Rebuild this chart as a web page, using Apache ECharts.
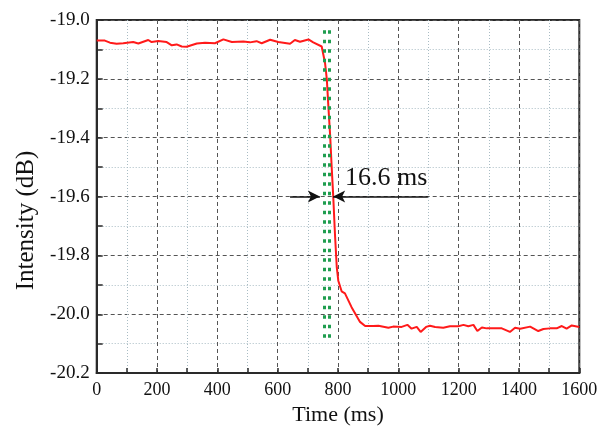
<!DOCTYPE html>
<html>
<head>
<meta charset="utf-8">
<script src="https://cdn.jsdelivr.net/npm/echarts@6/dist/echarts.min.js"></script>
<style>html,body{margin:0;padding:0;background:#fff}#c{width:606px;height:431px}</style>
</head>
<body>
<div id="c"></div>
<script>
// ---- data ----
var timeMs = [0, 27, 44, 66, 88, 121, 138, 171, 182, 204, 232, 249, 265, 282, 298, 332, 359, 392, 420, 448, 486, 508, 530, 547, 575, 602, 641, 657, 674, 702, 718, 746, 757, 763, 768, 774, 779, 784, 790, 796, 801, 812, 823, 845, 873, 890, 917, 934, 967, 983, 1011, 1030, 1044, 1061, 1074, 1092, 1105, 1122, 1149, 1171, 1199, 1216, 1232, 1249, 1262, 1277, 1293, 1326, 1343, 1370, 1387, 1404, 1437, 1464, 1481, 1503, 1525, 1542, 1558, 1575, 1600];
var intensity = [-19.070, -19.070, -19.077, -19.081, -19.079, -19.075, -19.080, -19.068, -19.075, -19.071, -19.075, -19.086, -19.083, -19.090, -19.091, -19.080, -19.077, -19.079, -19.066, -19.075, -19.073, -19.076, -19.072, -19.079, -19.067, -19.075, -19.081, -19.068, -19.074, -19.066, -19.076, -19.090, -19.146, -19.202, -19.292, -19.393, -19.499, -19.595, -19.729, -19.841, -19.886, -19.922, -19.929, -19.976, -20.026, -20.040, -20.040, -20.039, -20.046, -20.042, -20.043, -20.036, -20.049, -20.043, -20.060, -20.043, -20.039, -20.043, -20.046, -20.041, -20.041, -20.036, -20.041, -20.036, -20.057, -20.045, -20.048, -20.048, -20.048, -20.060, -20.046, -20.049, -20.042, -20.057, -20.050, -20.048, -20.048, -20.040, -20.049, -20.038, -20.043];

// annotation: response-time markers (green dotted) and arrows
var markerTimes = [753, 770];
var markerRange = [-19.035, -20.10];
var arrowLevel = -19.6;
var arrowLeft = [641, 740];     // from, to (tip)
var arrowRight = [1098, 784];   // from, to (tip)
var annotationText = '16.6 ms';
var annotationPos = [823, -19.538];

var xTicks = {min: 0, max: 1600, interval: 200};
var yTicks = {min: -20.2, max: -19.0, interval: 0.2};

// ---- chart ----
var serif = '"Liberation Serif","Times New Roman",serif';
var chart = echarts.init(document.getElementById('c'), null, {renderer: 'canvas'});
var seriesData = timeMs.map(function (t, i) { return [t, intensity[i]]; });

var vLines = markerTimes.map(function (t) {
  return [{coord: [t, markerRange[0]]}, {coord: [t, markerRange[1]]}];
});

chart.setOption({
  animation: false,
  grid: {left: 96.7, right: 26.7, top: 20, bottom: 54.3, show: true, borderColor: '#2a2a2a', borderWidth: 2, backgroundColor: 'transparent'},
  xAxis: {
    type: 'value', min: xTicks.min, max: xTicks.max, interval: xTicks.interval,
    name: 'Time (ms)', nameLocation: 'middle', nameGap: 29,
    nameTextStyle: {fontFamily: serif, fontSize: 22, color: '#111'},
    axisLine: {show: true, lineStyle: {color: '#2a2a2a', width: 2}},
    axisTick: {show: true, inside: true, length: 5, lineStyle: {color: '#2a2a2a', width: 1.5}},
    minorTick: {show: true, splitNumber: 2, length: 5, lineStyle: {color: '#2a2a2a', width: 1.5}},
    axisLabel: {fontFamily: serif, fontSize: 18, color: '#111', margin: 8, formatter: function (v) { return String(v); }},
    splitLine: {show: true, lineStyle: {color: '#555', type: [4, 3], width: 1}},
    minorSplitLine: {show: true, lineStyle: {color: '#a9bcc4', type: [1, 2], width: 1}}
  },
  yAxis: {
    type: 'value', min: yTicks.min, max: yTicks.max, interval: yTicks.interval,
    name: 'Intensity (dB)', nameLocation: 'middle', nameGap: 58,
    nameTextStyle: {fontFamily: serif, fontSize: 25, color: '#111', padding: [0, 48, 0, 0]},
    axisLine: {show: true, lineStyle: {color: '#2a2a2a', width: 2}},
    axisTick: {show: true, inside: true, length: 6, lineStyle: {color: '#2a2a2a', width: 1.5}},
    minorTick: {show: true, splitNumber: 2, length: 6, lineStyle: {color: '#2a2a2a', width: 1.5}},
    axisLabel: {fontFamily: serif, fontSize: 19, color: '#111', margin: 7, formatter: function (v) { return v.toFixed(1); }},
    splitLine: {show: true, lineStyle: {color: '#555', type: [4, 3], width: 1}},
    minorSplitLine: {show: true, lineStyle: {color: '#a9bcc4', type: [1, 2], width: 1}}
  },
  series: [
    {
      type: 'line', data: seriesData, showSymbol: false, symbol: 'none',
      lineStyle: {color: '#ff1a1a', width: 2}, z: 3
    },
    {
      type: 'line', data: [], z: 4,
      markLine: {
        silent: true, symbol: ['none', 'none'], label: {show: false},
        lineStyle: {color: '#1f9d4f', type: [3.5, 6], width: 3},
        data: vLines
      }
    },
    {
      type: 'line', data: [], z: 5,
      markLine: {
        silent: true, symbol: ['none', 'arrow'], symbolSize: [9, 12], label: {show: false},
        lineStyle: {color: '#111', type: 'solid', width: 1.5},
        data: [
          [{coord: [arrowLeft[0], arrowLevel]}, {coord: [arrowLeft[1], arrowLevel]}],
          [{coord: [arrowRight[0], arrowLevel]}, {coord: [arrowRight[1], arrowLevel]}]
        ]
      },
      markPoint: {
        silent: true, symbol: 'circle', symbolSize: 0,
        label: {show: true, formatter: annotationText, position: 'right', distance: 0, fontFamily: serif, fontSize: 26, color: '#111', align: 'left', verticalAlign: 'middle'},
        data: [{coord: annotationPos}]
      }
    }
  ]
});
</script>
</body>
</html>
